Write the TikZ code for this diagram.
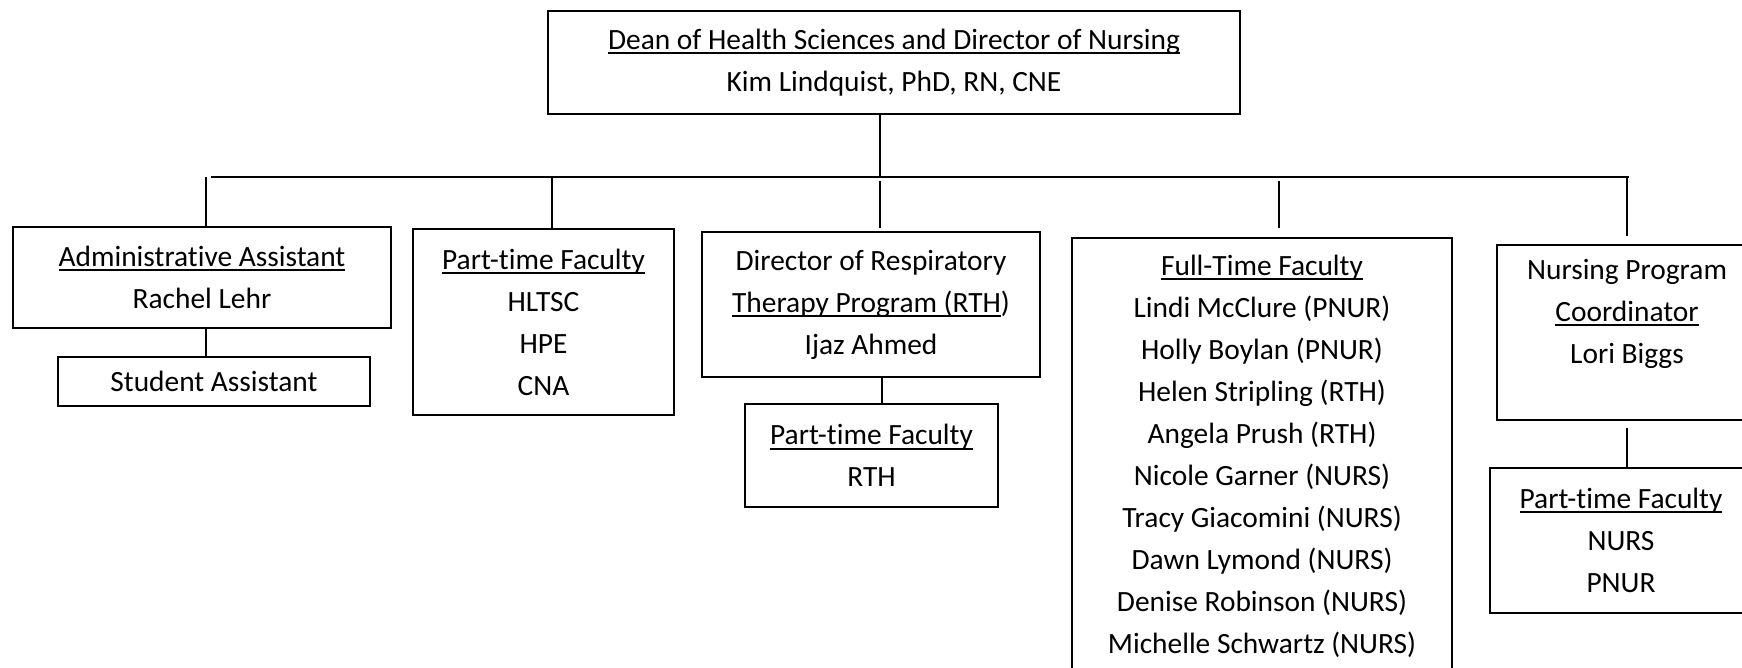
\documentclass[tikz,border=0pt]{standalone}
\usepackage{fontspec}
\setmainfont{Carlito}[Ligatures=NoCommon]
\newcommand{\uln}[1]{\leavevmode\sbox0{#1}\rlap{\vrule height -1.4pt depth 2.4pt width \wd0}\usebox0}

\begin{document}
\begin{tikzpicture}[x=0.5pt,y=-0.5pt,
        box/.style={draw,line width=1pt,align=center,anchor=north west,inner sep=0pt,
                    font=\fontsize{14.7}{21}\selectfont},
        link/.style={line width=1pt}]
        \useasboundingbox[fill=white] (0,0) rectangle (1742,668);
        \clip (0,0) rectangle (1742,668);

        \node[box,minimum width=346pt,minimum height=51.5pt] (dean) at (547,10)
            {\uln{Dean of Health Sciences and Director of Nursing}\\Kim Lindquist, PhD, RN, CNE};

        \node[box,minimum width=189pt,minimum height=50.5pt] (admin) at (12,226)
            {\uln{Administrative Assistant}\\Rachel Lehr};
        \node[box,minimum width=156pt,minimum height=24.5pt] (student) at (57,356) {Student Assistant};

        \node[box,minimum width=130.5pt,minimum height=93pt] (parttime) at (412,228)
            {\uln{Part-time Faculty}\\HLTSC\\HPE\\CNA};

        \node[box,minimum width=169pt,minimum height=72.5pt] (director) at (701,231)
            {Director of Respiratory\\\uln{Therapy Program (RTH})\\Ijaz Ahmed};
        \node[box,minimum width=126.5pt,minimum height=51.5pt] (partrth) at (744,403)
            {\uln{Part-time Faculty}\\RTH};

        \node[box,minimum width=190pt,minimum height=218pt] (fulltime) at (1071,237)
            {\uln{Full-Time Faculty}\\Lindi McClure (PNUR)\\Holly Boylan (PNUR)\\Helen Stripling (RTH)\\
             Angela Prush (RTH)\\Nicole Garner (NURS)\\Tracy Giacomini (NURS)\\Dawn Lymond (NURS)\\
             Denise Robinson (NURS)\\Michelle Schwartz (NURS)};

        \node[box,minimum width=130pt,minimum height=87.5pt] (coord) at (1496,244)
            {Nursing Program\\\uln{Coordinator}\\Lori Biggs\\\mbox{}};
        \node[box,minimum width=131pt,minimum height=72.5pt] (partnurs) at (1489,467)
            {\uln{Part-time Faculty}\\NURS\\PNUR};

        % bus line
        \coordinate (busL) at (211,177);
        \coordinate (busR) at (1629,177);
        \draw[link] (busL) -- (busR);
        \draw[link] ([xshift=-7pt]dean.south) -- ([xshift=-7pt]dean.south |- busL);

        \draw[link] ([xshift=2pt]admin.north) -- ([xshift=2pt]admin.north |- busL);
        \draw[link] ([xshift=4.25pt]parttime.north) -- ([xshift=4.25pt]parttime.north |- busL);
        \draw[link,shorten <=1.5pt,shorten >=2pt] ([xshift=4.5pt]director.north) -- ([xshift=4.5pt]director.north |- busL);
        \draw[link,shorten <=4.5pt,shorten >=2pt] ([xshift=8.5pt]fulltime.north) -- ([xshift=8.5pt]fulltime.north |- busL);
        \draw[link,shorten <=4pt] (coord.north) -- (coord.north |- busL);

        \draw[link] ([xshift=2pt]admin.south) -- ([xshift=2pt]admin.south |- student.north);
        \draw[link] ([xshift=5.5pt]director.south) -- ([xshift=5.5pt]director.south |- partrth.north);
        \draw[link,shorten <=3.5pt] (coord.south) -- (coord.south |- partnurs.north);

%\node at (871,640) {};
    \end{tikzpicture}
\end{document}
